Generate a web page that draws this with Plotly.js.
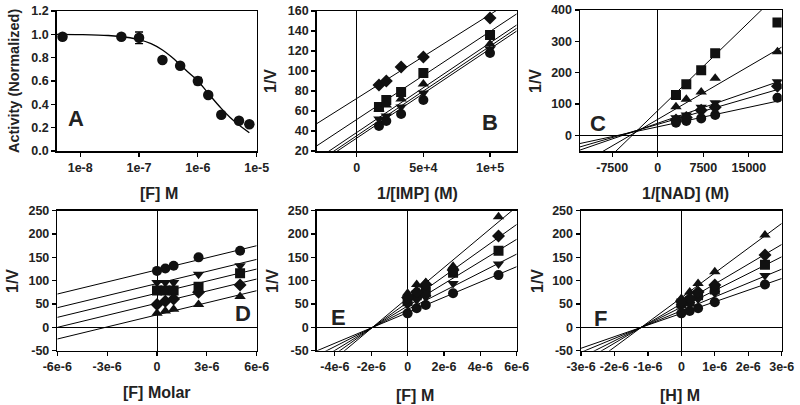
<!DOCTYPE html>
<html>
<head>
<meta charset="utf-8">
<script src="https://cdn.plot.ly/plotly-3.0.1.min.js"></script>
<style>html,body{margin:0;padding:0;background:#fff;}#chart{width:800px;height:405px;}</style>
</head>
<body>
<div id="chart"></div>
<script>
// ---------- DATA ----------
// Panel A: dose response
const aConc = [5e-9, 5e-8, 1e-7, 2.5e-7, 5e-7, 1e-6, 1.5e-6, 2.5e-6, 5e-6, 7.5e-6];
const aActivity = [0.98, 0.98, 0.97, 0.78, 0.73, 0.60, 0.48, 0.31, 0.26, 0.23];
const aError = [0.02, 0.02, 0.05, 0.02, 0.02, 0.03, 0.02, 0.02, 0.02, 0.02];
const aFitConc = [4e-9, 1e-8, 3e-8, 6e-8, 1e-7, 1.6e-7, 2.5e-7, 3.5e-7, 5e-7, 7e-7, 1e-6, 1.5e-6, 2.5e-6, 3.5e-6, 5e-6, 7.5e-6];
const aFitActivity = [1.0, 0.998, 0.99, 0.975, 0.955, 0.92, 0.866, 0.81, 0.74, 0.67, 0.6, 0.494, 0.365, 0.29, 0.223, 0.157];

// series order: circle, triangle-down, square, diamond, triangle-up
const seriesSymbols = ['circle', 'triangle-down', 'square', 'diamond', 'triangle-up'];

// Panel B: 1/[IMP]
const bX = [1.67e4, 2.22e4, 3.33e4, 5e4, 1e5];
const bCircle = [45, 50, 57, 71, 118];
const bTriDown = [52, 55, 64, 78, 122];
const bSquare = [64, 71, 79, 98, 136];
const bDiamond = [86, 90, 104, 114, 153];
const bTriUp = [62, 66, 72, 87, 127];
const bIntercept = [32.9, 35.2, 51.5, 72.5, 38.5];
const bSlope = [8.92e-4, 8.96e-4, 8.8e-4, 8.4e-4, 8.96e-4];

// Panel C: 1/[NAD]
const cX = [3000, 4700, 7150, 9450, 19700];
const cCircle = [40, 46, 54, 65, 120];
const cTriDown = [56, 65, 90, 104, 171];
const cSquare = [129, 163, 208, 262, 360];
const cDiamond = [49, 57, 80, 90, 157];
const cTriUp = [91, 115, 138, 182, 267];
const cIntercept = [27.2, 38.6, 79, 35.1, 51];
const cSlope = [0.00416, 0.00669, 0.0188, 0.00563, 0.0113];

// Panel D: [F] Molar
const dX = [0, 5e-7, 1e-6, 2.5e-6, 5e-6];
const dCircle = [121, 126, 132, 150, 164];
const dTriDown = [96, 96, 96, 114, 132];
const dSquare = [79, 79, 79, 87, 116];
const dDiamond = [49, 56, 61, 75, 91];
const dTriUp = [30, 35, 39, 49, 66];
const dIntercept = [123.2, 93.9, 73.2, 51.8, 26.8];
const dSlope = [8.63e6, 8.63e6, 8.63e6, 8.63e6, 8.63e6];

// Panel E: [F] M
const eX = [0, 5e-7, 1e-6, 2.5e-6, 5e-6];
const eCircle = [30, 41, 48, 73, 112];
const eTriDown = [48, 58, 64, 94, 136];
const eSquare = [56, 69, 76, 117, 164];
const eDiamond = [64, 76, 92, 123, 196];
const eTriUp = [73, 92, 96, 131, 237];
const eIntercept = [31.6, 38.2, 45.9, 53.7, 63];
const eSlope = [16.4e6, 19.8e6, 23.8e6, 27.8e6, 32.6e6];

// Panel F: [H] M
const fX = [0, 2.5e-7, 5e-7, 1e-6, 2.5e-6];
const fCircle = [30, 35, 41, 54, 92];
const fTriDown = [44, 49, 60, 73, 111];
const fSquare = [51, 56, 69, 81, 134];
const fDiamond = [56, 62, 76, 91, 155];
const fTriUp = [62, 76, 94, 119, 198];
const fIntercept = [29.9, 35.6, 43.2, 50.7, 63.6];
const fSlope = [24.9e6, 29.7e6, 36e6, 42.3e6, 53e6];

// tick labels
const aTickVals = [1e-8, 1e-7, 1e-6, 1e-5];
const aTickText = ['1e-8', '1e-7', '1e-6', '1e-5'];
const bTickVals = [0, 5e4, 1e5];
const bTickText = ['0', '5e+4', '1e+5'];
const cTickVals = [-7500, 0, 7500, 15000];
const cTickText = ['-7500', '0', '7500', '15000'];
const dTickVals = [-6e-6, -3e-6, 0, 3e-6, 6e-6];
const dTickText = ['-6e-6', '-3e-6', '0', '3e-6', '6e-6'];
const eTickVals = [-4e-6, -2e-6, 0, 2e-6, 4e-6, 6e-6];
const eTickText = ['-4e-6', '-2e-6', '0', '2e-6', '4e-6', '6e-6'];
const fTickVals = [-3e-6, -2e-6, -1e-6, 0, 1e-6, 2e-6, 3e-6];
const fTickText = ['-3e-6', '-2e-6', '-1e-6', '0', '1e-6', '2e-6', '3e-6'];
const aYTicks = ['0.0', '0.2', '0.4', '0.6', '0.8', '1.0', '1.2'];
const bYTicks = ['20', '40', '60', '80', '100', '120', '140', '160'];
const cYTicks = ['0', '100', '200', '300', '400'];
const defYTicks = ['-50', '0', '50', '100', '150', '200', '250'];

// ---------- LAYOUT HELPERS ----------
const W = 800, H = 405;
const FONT = 'Liberation Sans, Arial, Helvetica, sans-serif';
const px = x => x / W;
const py = y => 1 - y / H;
const bold = arr => arr.map(t => '<b>' + t + '</b>');

const panels = {
  A: {box: [56.7, 11, 256.7, 151], xr: [-8.4, -5], yr: [0, 1.2], log: true},
  B: {box: [316.7, 11, 516.7, 151], xr: [-3e4, 1.2e5], yr: [20, 160]},
  C: {box: [580, 10, 781.7, 151], xr: [-12800, 20400], yr: [-50, 400]},
  D: {box: [57.3, 210.7, 256.7, 350.7], xr: [-6e-6, 6e-6], yr: [-50, 250]},
  E: {box: [316.7, 210.7, 516.7, 350.7], xr: [-5e-6, 6e-6], yr: [-50, 250]},
  F: {box: [581, 210.7, 781.7, 350.7], xr: [-3e-6, 3e-6], yr: [-50, 250]}
};

const panelSeries = {
  B: {x: bX, ys: [bCircle, bTriDown, bSquare, bDiamond, bTriUp], b: bIntercept, m: bSlope},
  C: {x: cX, ys: [cCircle, cTriDown, cSquare, cDiamond, cTriUp], b: cIntercept, m: cSlope},
  D: {x: dX, ys: [dCircle, dTriDown, dSquare, dDiamond, dTriUp], b: dIntercept, m: dSlope},
  E: {x: eX, ys: [eCircle, eTriDown, eSquare, eDiamond, eTriUp], b: eIntercept, m: eSlope},
  F: {x: fX, ys: [fCircle, fTriDown, fSquare, fDiamond, fTriUp], b: fIntercept, m: fSlope}
};

const ticks = {
  A: [aTickVals, aTickText], B: [bTickVals, bTickText], C: [cTickVals, cTickText],
  D: [dTickVals, dTickText], E: [eTickVals, eTickText], F: [fTickVals, fTickText]
};
const yTicks = {A: aYTicks, B: bYTicks, C: cYTicks, D: defYTicks, E: defYTicks, F: defYTicks};

const names = ['A', 'B', 'C', 'D', 'E', 'F'];
const layout = {
  width: W, height: H,
  margin: {l: 0, r: 0, t: 0, b: 0},
  paper_bgcolor: '#ffffff', plot_bgcolor: '#ffffff',
  showlegend: false,
  font: {family: FONT, color: '#000'},
  annotations: []
};

names.forEach((n, i) => {
  const p = panels[n];
  const k = i + 1;
  const xa = 'xaxis' + (k === 1 ? '' : k);
  const ya = 'yaxis' + (k === 1 ? '' : k);
  const common = {
    showline: true, mirror: true, linecolor: '#000', linewidth: 1.5,
    ticks: 'outside', ticklen: 4, tickwidth: 1.2, tickcolor: '#000',
    showgrid: false, fixedrange: true,
    tickfont: {family: FONT, size: 12.5, color: '#222'}
  };
  layout[xa] = Object.assign({}, common, {
    domain: [px(p.box[0]), px(p.box[2])],
    anchor: 'y' + (k === 1 ? '' : k),
    range: p.xr,
    type: p.log ? 'log' : 'linear',
    tickmode: 'array', tickvals: ticks[n][0], ticktext: bold(ticks[n][1]),
    zeroline: !p.log, zerolinecolor: '#000', zerolinewidth: 1
  });
  layout[ya] = Object.assign({}, common, {
    domain: [py(p.box[3]), py(p.box[1])],
    anchor: 'x' + (k === 1 ? '' : k),
    range: p.yr,
    tickmode: 'array', tickvals: yTicks[n].map(Number), ticktext: bold(yTicks[n]),
    zeroline: !p.log && p.yr[0] < 0, zerolinecolor: '#000', zerolinewidth: 1
  });
});

// ---------- TRACES ----------
const traces = [];
// Panel A
traces.push({
  x: aFitConc, y: aFitActivity, xaxis: 'x', yaxis: 'y', mode: 'lines',
  line: {color: '#000', width: 1.3, shape: 'spline'}, hoverinfo: 'skip'
});
traces.push({
  x: aConc, y: aActivity, xaxis: 'x', yaxis: 'y', mode: 'markers',
  marker: {symbol: 'circle', size: 10.5, color: '#111'},
  error_y: {type: 'data', array: aError, color: '#000', thickness: 1.3, width: 4}
});

['B', 'C', 'D', 'E', 'F'].forEach((n) => {
  const k = names.indexOf(n) + 1;
  const xr = 'x' + k, yr = 'y' + k;
  const s = panelSeries[n];
  const range = panels[n].xr;
  s.b.forEach((b, j) => {
    traces.push({
      x: [range[0], range[1]],
      y: [b + s.m[j] * range[0], b + s.m[j] * range[1]],
      xaxis: xr, yaxis: yr, mode: 'lines',
      line: {color: '#000', width: 1}, hoverinfo: 'skip'
    });
  });
  s.ys.forEach((ys, j) => {
    traces.push({
      x: s.x, y: ys, xaxis: xr, yaxis: yr, mode: 'markers',
      marker: {symbol: seriesSymbols[j], size: 10, color: '#111'}
    });
  });
});

// ---------- ANNOTATIONS ----------
function ann(text, x, y, size, angle) {
  layout.annotations.push({
    text: '<b>' + text + '</b>', xref: 'paper', yref: 'paper', x: px(x), y: py(y),
    xanchor: 'center', yanchor: 'middle', showarrow: false,
    textangle: angle || 0,
    font: {family: FONT, size: size, color: '#222'}
  });
}
// panel letters
ann('A', 76, 118, 22);
ann('B', 490, 122, 22);
ann('C', 598, 123, 22);
ann('D', 243, 313, 22);
ann('E', 338, 317, 22);
ann('F', 600, 318, 22);
// axis titles
ann('[F] M', 159, 193, 16);
ann('1/[IMP] (M)', 417, 193, 16);
ann('1/[NAD] (M)', 685, 193, 16);
ann('[F] Molar', 157, 392, 16);
ann('[F] M', 415, 395, 16);
ann('[H] M', 680, 395, 16);
ann('Activity (Normalized)', 14, 81, 14.5, -90);
ann('1/V', 271, 81, 16, -90);
ann('1/V', 536, 81, 16, -90);
ann('1/V', 12, 281, 16, -90);
ann('1/V', 272, 281, 16, -90);
ann('1/V', 537, 281, 16, -90);

Plotly.newPlot('chart', traces, layout, {staticPlot: true, displayModeBar: false});
</script>
</body>
</html>
